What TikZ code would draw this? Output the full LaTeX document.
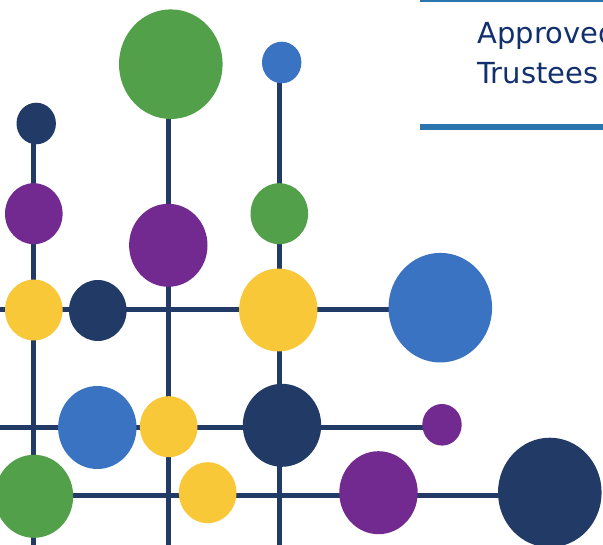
\documentclass[tikz,border=0pt]{standalone}
\usepackage{fontspec}
\newfontfamily\titlefont{DejaVu Sans}
\usepackage{tikz}
\usetikzlibrary{shapes.geometric,backgrounds}
\definecolor{dotnavy}{HTML}{213A66}
\definecolor{dotblue}{HTML}{3A73C1}
\definecolor{dotgreen}{HTML}{52A04A}
\definecolor{dotpurple}{HTML}{722A90}
\definecolor{dotyellow}{HTML}{F8C838}
\definecolor{barblue}{HTML}{2A75AE}
\definecolor{titleblue}{HTML}{12306E}

\begin{document}
\begin{tikzpicture}[x=1pt,y=-1pt,
  dot/.style={ellipse,inner sep=0pt,draw=none},
  smalldot/.style={dot,minimum width=39.4pt,minimum height=41.6pt},
  middot/.style={dot,minimum width=57.6pt,minimum height=61pt},
  bigdot/.style={dot,minimum width=78.4pt,minimum height=83pt},
  hugedot/.style={dot,minimum width=103.6pt,minimum height=109.6pt},
  link/.style={dotnavy,line width=5pt},
  bar/.style={barblue,line width=6pt},
  title/.style={titleblue,inner sep=0pt,anchor=base west,font=\titlefont\fontsize{29}{34}\selectfont}]
\useasboundingbox (0,0) rectangle (603,545);
\node [smalldot,fill=dotnavy] (n1) at (36.2,123.5) {};
\node [middot,fill=dotpurple] (p1) at (33.8,213.7) {};
\node [middot,fill=dotyellow] (y1) at (33.8,310) {};
\node [middot,fill=dotnavy] (n2) at (97.8,310.5) {};
\node [hugedot,fill=dotgreen] (g1) at (170.8,64.2) {};
\node [bigdot,fill=dotpurple] (p2) at (168.3,245.3) {};
\node [smalldot,fill=dotblue] (b1) at (281.7,62.5) {};
\node [middot,fill=dotgreen] (g2) at (279.3,213.7) {};
\node [bigdot,fill=dotyellow] (y2) at (278.3,310) {};
\node [hugedot,fill=dotblue] (b2) at (440.3,307.7) {};
\node [bigdot,fill=dotblue] (b3) at (97.3,427.5) {};
\node [middot,fill=dotyellow] (y3) at (168.7,426.7) {};
\node [bigdot,fill=dotnavy] (n3) at (282,425.3) {};
\node [smalldot,fill=dotpurple] (p3) at (442,424.8) {};
\node [bigdot,fill=dotgreen] (g3) at (34,496.3) {};
\node [middot,fill=dotyellow] (y4) at (207.7,492.7) {};
\node [bigdot,fill=dotpurple] (p4) at (378.5,492.7) {};
\node [hugedot,fill=dotnavy] (n4) at (549.8,492.5) {};
\coordinate (v1) at (33.5,552);
\coordinate (v2) at (168.3,552);
\coordinate (v3) at (279.2,552);
\coordinate (h1) at (-8,310);
\coordinate (h2) at (-8,427.5);
\coordinate (h3) at (-8,495.8);
\begin{scope}[on background layer]
\draw [link] (v1) -- (v1 |- n1);
\draw [link] (v2) -- (v2 |- g1);
\draw [link] (v3) -- (v3 |- b1);
\draw [link] (h1) -- (h1 -| b2);
\draw [link] (h2) -- (h2 -| p3);
\draw [link] (h3) -- (h3 -| n4);
\end{scope}
\draw [bar] (420,-1) -- (610,-1);
\draw [bar] (420,127.3) -- (610,127.3);
\node [title] (t1) at (477.3,43.3) {Approved};
\node [title] (t2) at (477.3,84) {Trustees};
\end{tikzpicture}
\end{document}
